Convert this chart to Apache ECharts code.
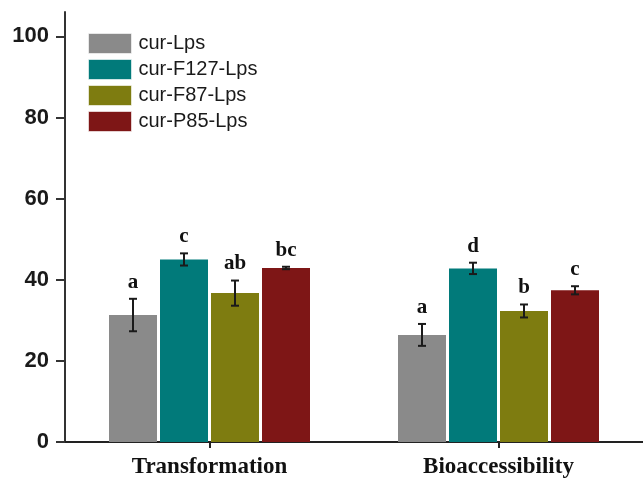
<!DOCTYPE html>
<html>
<head>
<meta charset="utf-8">
<script src="https://cdn.jsdelivr.net/npm/echarts@6/dist/echarts.min.js"></script>
<style>
  html, body { margin: 0; padding: 0; background: #fff; }
  #chart { width: 643px; height: 481px; }
</style>
</head>
<body>
<div id="chart"></div>
<script>
// Groups on the x axis
const categories = ['Transformation', 'Bioaccessibility'];

// Formulations, in legend order
const seriesNames = ['cur-Lps', 'cur-F127-Lps', 'cur-F87-Lps', 'cur-P85-Lps'];

// Mean values (%) per formulation, one entry per group
const curLps     = [31.3, 26.4];
const curF127Lps = [45.0, 42.8];
const curF87Lps  = [36.7, 32.3];
const curP85Lps  = [42.9, 37.4];

// Standard deviations
const curLpsErr     = [4.0, 2.7];
const curF127LpsErr = [1.5, 1.4];
const curF87LpsErr  = [3.1, 1.6];
const curP85LpsErr  = [0.3, 1.0];

// Significance letters
const curLpsSig     = ['a', 'a'];
const curF127LpsSig = ['c', 'd'];
const curF87LpsSig  = ['ab', 'b'];
const curP85LpsSig  = ['bc', 'c'];

// Y axis ticks
const yTicks = [0, 20, 40, 60, 80, 100];

const values = [curLps, curF127Lps, curF87Lps, curP85Lps];
const errors = [curLpsErr, curF127LpsErr, curF87LpsErr, curP85LpsErr];
const letters = [curLpsSig, curF127LpsSig, curF87LpsSig, curP85LpsSig];
const colors = ['#8a8a8a', '#017a7a', '#7e7c10', '#7e1616'];

const BAR_W = 48;
const BAR_GAP = 3;

const chart = echarts.init(document.getElementById('chart'), null, { renderer: 'canvas' });

const barSeries = seriesNames.map((name, i) => ({
  name: name,
  type: 'bar',
  data: values[i],
  barWidth: BAR_W,
  barGap: (BAR_GAP / BAR_W * 100) + '%',
  itemStyle: { color: colors[i] },
  emphasis: { disabled: true },
  z: 2
}));

// Error bars with caps and significance letters above them
const errorSeries = seriesNames.map((name, i) => ({
  type: 'custom',
  name: name + '-err',
  data: values[i].map((v, j) => [j, v, errors[i][j]]),
  encode: { x: 0, y: 1 },
  silent: true,
  z: 5,
  renderItem: function (params, api) {
    const cat = api.value(0);
    const v = api.value(1);
    const e = api.value(2);
    const off = (i - 1.5) * (BAR_W + BAR_GAP);
    const top = api.coord([cat, v + e]);
    const bot = api.coord([cat, v - e]);
    const x = top[0] + off;
    const cap = 4;
    const stroke = { stroke: '#1a1a1a', lineWidth: 2 };
    return {
      type: 'group',
      children: [
        { type: 'line', shape: { x1: x, y1: top[1], x2: x, y2: bot[1] }, style: stroke },
        { type: 'line', shape: { x1: x - cap, y1: top[1], x2: x + cap, y2: top[1] }, style: stroke },
        { type: 'line', shape: { x1: x - cap, y1: bot[1], x2: x + cap, y2: bot[1] }, style: stroke },
        {
          type: 'text',
          x: x,
          y: top[1] - 6,
          style: {
            text: letters[i][cat],
            fill: '#111',
            font: 'bold 21px "Liberation Serif", "Times New Roman", serif',
            align: 'center',
            verticalAlign: 'bottom'
          }
        }
      ]
    };
  }
}));

chart.setOption({
  animation: false,
  backgroundColor: '#ffffff',
  grid: { left: 65, right: 0, top: 12, bottom: 39, containLabel: false },
  legend: {
    orient: 'vertical',
    left: 83,
    top: 28,
    itemWidth: 43,
    itemHeight: 20,
    itemGap: 5,
    icon: 'rect',
    data: seriesNames,
    itemStyle: { borderColor: 'rgba(255,255,255,0.6)', borderWidth: 1 },
    textStyle: {
      fontFamily: '"Liberation Sans", Arial, sans-serif',
      fontSize: 20,
      color: '#1a1a1a',
      lineHeight: 20,
      padding: [0, 0, 0, 2]
    },
    selectedMode: false
  },
  xAxis: {
    type: 'category',
    data: categories,
    axisLine: { show: true, lineStyle: { color: '#222', width: 2 } },
    axisTick: { show: true, alignWithLabel: true, length: 6, lineStyle: { color: '#222', width: 2 } },
    axisLabel: {
      color: '#111',
      fontFamily: '"Liberation Serif", "Times New Roman", serif',
      fontWeight: 'bold',
      fontSize: 23,
      margin: 14
    },
    splitLine: { show: false }
  },
  yAxis: {
    type: 'value',
    min: 0,
    max: 106,
    axisLine: { show: true, lineStyle: { color: '#333', width: 2 } },
    axisTick: { show: true, length: 9, customValues: yTicks, lineStyle: { color: '#333', width: 2 } },
    axisLabel: {
      customValues: yTicks,
      color: '#1a1a1a',
      fontFamily: '"Liberation Sans", Arial, sans-serif',
      fontWeight: 'bold',
      fontSize: 22,
      margin: 16
    },
    splitLine: { show: false }
  },
  series: barSeries.concat(errorSeries)
});
</script>
</body>
</html>
